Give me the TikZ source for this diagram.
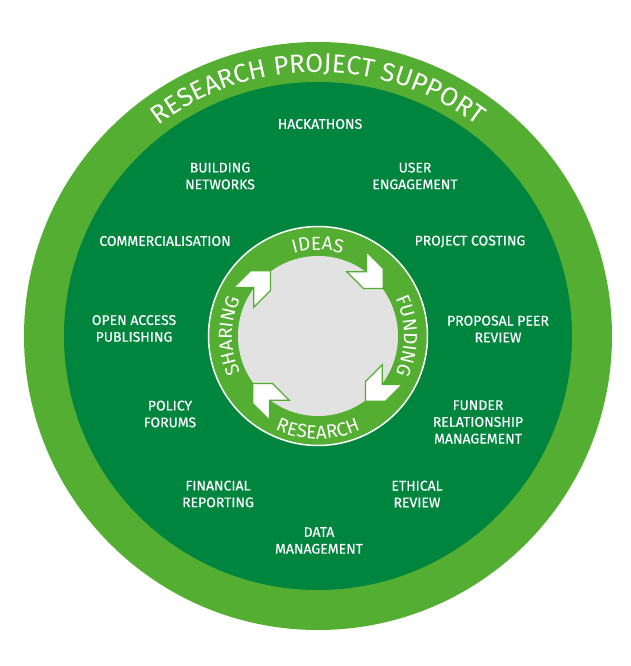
\documentclass[tikz,border=0pt]{standalone}
\usepackage{fontspec}
\setmainfont{Fira Sans}
\newfontfamily\itemfam{Fira Sans}[FakeBold=0.35]
\usepackage{tikz}
\usetikzlibrary{decorations.text}

\definecolor{lightgrn}{RGB}{84,174,50}
\definecolor{darkgrn}{RGB}{0,133,62}
\definecolor{discgray}{RGB}{226,226,226}

\newcommand\titlefont{\fontsize{26}{26}\selectfont}
\newcommand\ringfont{\fontsize{19}{19}\selectfont}

\tikzset{
  item/.style={text=white, align=center, inner sep=0pt, font=\itemfam\fontsize{14}{16.8}\selectfont},
  chevron/.style={fill=white, draw=lightgrn, line width=1.2pt, line join=miter},
  ringtext/.style={decorate, decoration={text along path, text align=center, text color=white, text={#1}}}
}

\begin{document}
\begin{tikzpicture}[x=1pt,y=1pt]
  \useasboundingbox (-318,-330) rectangle (312,336);
  \fill[lightgrn] (0,0) circle[radius=294pt];
  \fill[darkgrn] (0,0) circle[radius=254pt];
  \path[ringtext={|\titlefont|RESEARCH PROJECT SUPPORT}]
    (155:264pt) arc[start angle=155, end angle=25, radius=264pt];

  % cycle in the middle
  \draw[white, line width=1.5pt, fill=lightgrn] (0,0) circle[radius=109.5pt];
  \fill[discgray] (0,0) circle[radius=80pt];
  \foreach \p/\r in {49.5/-45, -40.5/-135, -130.5/135, 139.5/45} {
    \begin{scope}[shift={(\p:80pt)}, rotate=\r, scale=1.08]
      \draw[chevron] (17.5,0) -- (4.5,13) -- (-17.5,13) -- (-4.5,0)
        -- (-17.5,-13) -- (4.5,-13) -- cycle;
    \end{scope}
  }
  \path[ringtext={|\ringfont|IDEAS}]
    (130:86pt) arc[start angle=130, end angle=50, radius=86pt];
  \path[ringtext={|\ringfont|FUNDING}]
    (40:86pt) arc[start angle=40, end angle=-40, radius=86pt];
  \path[ringtext={|\ringfont|SHARING}]
    (220:86pt) arc[start angle=220, end angle=140, radius=86pt];
  \path[ringtext={|\ringfont|RESEARCH}]
    (215:103pt) arc[start angle=215, end angle=325, radius=103pt];

  % support items
  \node at (2,212) (hack) [item] {HACKATHONS};
  \node at (-98,160) (netw) [item] {BUILDING\\NETWORKS};
  \node at (97,160) (user) [item] {USER\\ENGAGEMENT};
  \node at (-153,95) (comm) [item] {COMMERCIALISATION};
  \node at (152,94.5) (cost) [item] {PROJECT COSTING};
  \node at (-184,7.5) (oa) [item] {OPEN ACCESS\\PUBLISHING};
  \node at (180,7) (peer) [item] {PROPOSAL PEER\\REVIEW};
  \node at (-148,-78) (policy) [item] {POLICY\\FORUMS};
  \node at (160,-86) (funder) [item] {FUNDER\\RELATIONSHIP\\MANAGEMENT};
  \node at (-100,-158) (fin) [item] {FINANCIAL\\REPORTING};
  \node at (99,-158) (ethic) [item] {ETHICAL\\REVIEW};
  \node at (1,-204.5) (data) [item] {DATA\\MANAGEMENT};
\end{tikzpicture}
\end{document}
